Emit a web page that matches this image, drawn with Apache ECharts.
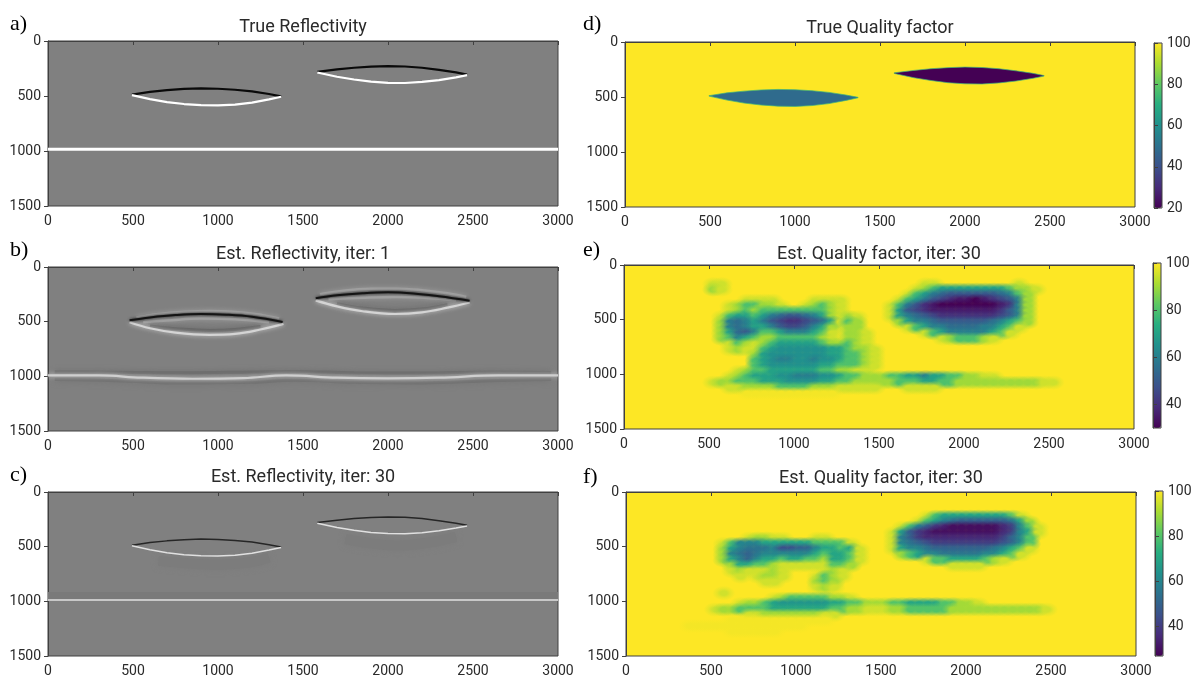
<!DOCTYPE html>
<html><head><meta charset="utf-8">
<style>html,body{margin:0;padding:0;background:#fff}#c{width:1199px;height:680px}</style>
<script src="https://cdn.jsdelivr.net/npm/echarts@6/dist/echarts.min.js"></script>
</head><body><div id="c"></div>
<script>
const viridis=['#440154','#472c7a','#3b518b','#2c718e','#21908d','#27ad81','#5cc863','#aadc32','#fde725'];
const titles=['True Reflectivity','Est. Reflectivity, iter: 1','Est. Reflectivity, iter: 30','True Quality factor','Est. Quality factor, iter: 30','Est. Quality factor, iter: 30'];
const tags=['a)','b)','c)','d)','e)','f)'];

// lens boundaries (distance, depth)
const lens1Top=[[494,488],[600,462],[700,447],[800,436],[900,431],[1000,434],[1100,443],[1200,458],[1300,482],[1371,503]];
const lens1Bot=[[494,492],[600,528],[700,555],[800,573],[900,583],[1000,586],[1100,578],[1200,560],[1300,531],[1371,507]];
const lens2Top=[[1584,280],[1700,258],[1800,243],[1900,233],[2000,228],[2100,232],[2200,243],[2300,262],[2400,285],[2465,305]];
const lens2Bot=[[1584,286],[1700,325],[1800,350],[1900,370],[2000,380],[2100,382],[2200,372],[2300,355],[2400,330],[2465,310]];
const reflectorA=[[0,985],[3000,985]];
const qLens1=48, qLens2=20;

// panel b
const bL1Top=[[480,487],[600,462],[750,440],[900,430],[1050,436],[1200,455],[1380,503]];
const bL1Bot=[[480,505],[600,560],[750,600],[950,620],[1100,612],[1250,572],[1385,520]];
const bL1Halo=[[520,462],[650,430],[800,410],[950,402],[1100,412],[1250,436],[1360,470]];
const bL1In=[[560,505],[700,490],[900,472],[1100,478],[1300,505]];
const bL1Dark=[[600,540],[750,565],[950,580],[1100,572],[1250,545]];
const bL2Top=[[1575,285],[1700,258],[1850,240],[2000,232],[2150,242],[2300,268],[2480,308]];
const bL2Bot=[[1575,305],[1700,360],[1850,405],[2040,430],[2200,415],[2350,372],[2480,325]];
const bL2Halo=[[1600,250],[1750,215],[1900,200],[2050,198],[2200,212],[2350,240],[2460,275]];
const bL2In=[[1650,295],[1850,282],[2050,275],[2250,285],[2400,305]];
const bL2Dark=[[1700,335],[1850,375],[2040,397],[2200,385],[2350,345]];
const bRefl=[[0,992],[300,992],[550,1012],[850,1022],[1150,1016],[1400,992],[1700,1012],[2000,1018],[2300,1012],[2650,992],[3000,992]];
const bReflUp=[[40,960],[400,962],[800,968],[1200,960],[1450,955],[1800,968],[2200,970],[2600,960],[2960,965]];
const bReflDn=[[40,1030],[400,1040],[800,1062],[1200,1055],[1450,1035],[1800,1055],[2200,1060],[2600,1040],[2960,1030]];

// panel c
const cRefl=[[0,988],[3000,988]];
const cReflUp=[[0,955],[3000,955]];
const cShade1=[[650,630],[800,650],[1000,665],[1200,640],[1300,600]];
const cShade2=[[1750,430],[1900,470],[2050,490],[2250,460],[2400,410]];

// Q-factor maps: cells 50 x 50, top-down from depth 0, six groups of ten columns.
const qCodes={'.':100,h:99,a:95,'9':90,b:85,'8':80,c:75,'7':70,d:65,'6':60,e:55,'5':50,f:45,'4':40,g:35,'3':30};
const E='..........';
const qRowsE=[
[E,E,E,E,E,E],[E,E,E,E,E,E],[E,E,E,E,E,E],
[E,'aa........',E,'.....aa...','......a...',E],
[E,'9a........',E,'....a98777','77777899a.',E],
[E,E,E,'...a876e55','5555e689..',E],
[E,'....aaaa..','..aaaa....','..a8765f4g','g3g4f569..',E],
[E,'..a98899a.','.a989a....','.a8654g333','3333g469..',E],
[E,'..a9898888','88889a....','.a75f4gggg','gggg4569..',E],
[E,'.a877876e5','5e679a9a..','.a76e5f444','4444f569..',E],
[E,'.96e6765f4','4f5e7a89..','..9766e555','555e6789..',E],
[E,'.96e67765f','f5679.99..','...a8766ee','ee6678a...',E],
[E,'.97e568876','6678a.99a.','.....a8766','66678a....',E],
[E,'.986789988','8889a.99a.','.......a98','889a......',E],
[E,'..a89a9877','77789989a.',E,E,E],
[E,'..a9aa87dd','dddd77899a',E,E,E],
[E,'.....97ddd','dddd77889a',E,E,E],
[E,'.....87d66','dd6dd7889a',E,E,E],
[E,'.....87ddd','ddd778889a',E,E,E],
[E,'...a988777','7778899aa.',E,E,E],
[E,'..a98777dd','666dd78899','9887767788','99aa......',E],
[E,'a99888777d','ddd7788999','9988877889','999999999a','a.........'],
[E,'..aa999988','88999aaaaa','...aaaa...',E,E],
[E,'....hhhhhh','hhhhh.....',E,E,E]
];
const qRowsF=[
[E,E,E,E,E,E],[E,E,E,E,E,E],[E,E,E,E,E,E],[E,E,E,E,E,E],
[E,E,E,'.....a8777','777778a...',E],
[E,E,E,'....a876e5','55555e79..',E],
[E,E,E,'..a8654g33','3333g468a.',E],
[E,E,E,'.a754g3333','3333g467a.',E],
[E,'....a99aa.','..aa......','.a654ggggg','gggg4568..',E],
[E,'.a86667777','778888a...','.a6e5f4444','4444f568..',E],
[E,'.976eee6ff','5567787a..','.a766e5555','555e678a..',E],
[E,'.96e5e6666','6678778a..','..98766eee','ee6678a...',E],
[E,'.976567787','7889778a..','.....a8877','7789a.....',E],
[E,'..977889aa','aaaa889...','........aa','aa........',E],
[E,'..a9aaa9a.','...a9a....',E,E,E],
[E,'...a.a99a.','..a89a....',E,E,E],
[E,'......aa..','..989.....',E,E,E],
[E,E,'..a9a.....',E,E,E],
[E,'.a........',E,E,E,E],
[E,'.......a98','888899a...',E,E,E],
[E,'...a9987dd','dddd778899','9887777889','9a........',E],
[E,'a998888777','77778899aa','a998888899','999999999a',E],
[E,'....aa9999','999aa.....',E,E,E],
[E,'..hhhhhhhh','hhhh......',E,E,E],
['.......hhh','hhhhhhhhhh','h.........',E,E,E],
[E,'..hhhhhh..',E,E,E,E]
];
const cbarTicksD=[20,40,60,80,100], cbarTicksE=[40,60,80,100], cbarTicksF=[40,60,80,100];
const cbarRanges=[[20,100],[30,100],[27,100]];

function cells(rows){
  const out=[];
  rows.forEach((groups,j)=>{
    groups.join('').split('').forEach((ch,i)=>{
      const q=qCodes[ch];
      if(q<100) out.push([i*50+25,j*50+25,q]);
    });
  });
  return out;
}

// layout, px
const W=510;
const boxes=[[48,41,165],[48,267,164],[48,492,164],[625,42,165],[624,265,164],[626,492,164]];
const cbars=[[1154,43,165],[1153,263,165],[1155,491,165]];
const titlePos=[[303,27],[303,254],[303,477],[880,28],[879,254],[881,478]];
const tagPos=[[10,24],[10,250],[10,475],[583,24],[583,250],[583,477]];
const font='Roboto', ink='#2a2a2a', frame='#404040';
const plain=v=>String(v);

const grid=[],xAxis=[],yAxis=[],series=[],title=[];
boxes.forEach((b,i)=>{
  grid.push({left:b[0],top:b[1],width:W,height:b[2],show:true,borderColor:frame,borderWidth:1,
    backgroundColor:i<3?'#808080':'#fde725'});
  xAxis.push({gridIndex:i,type:'value',min:0,max:3000,interval:500,position:'bottom',
    axisLine:{show:true,lineStyle:{color:frame}},axisTick:{show:true,length:4,lineStyle:{color:frame}},
    axisLabel:{show:true,color:ink,fontFamily:font,fontSize:14,margin:8,formatter:plain,hideOverlap:false,showMinLabel:true,showMaxLabel:true},splitLine:{show:false}});
  yAxis.push({gridIndex:i,type:'value',min:0,max:1500,interval:500,inverse:true,position:'left',
    axisLine:{show:true,lineStyle:{color:frame}},axisTick:{show:true,length:4,lineStyle:{color:frame}},
    axisLabel:{show:true,color:ink,fontFamily:font,fontSize:14,margin:7,formatter:plain,showMinLabel:true,showMaxLabel:true},splitLine:{show:false}});
  title.push({text:titles[i],left:titlePos[i][0],top:titlePos[i][1],textAlign:'center',textVerticalAlign:'middle',padding:0,
    textStyle:{fontFamily:font,fontSize:18,fontWeight:'normal',color:ink}});
  title.push({text:tags[i],left:tagPos[i][0],top:tagPos[i][1],textVerticalAlign:'middle',padding:0,
    textStyle:{fontFamily:'Liberation Serif',fontSize:22,fontWeight:'normal',color:'#000'}});
});
cbars.forEach((c,k)=>{
  const g=6+k, ticks=[cbarTicksD,cbarTicksE,cbarTicksF][k], r=cbarRanges[k];
  grid.push({left:c[0],top:c[1],width:8,height:c[2],show:true,borderColor:frame,borderWidth:1,backgroundColor:'transparent',z:5});
  xAxis.push({gridIndex:g,type:'value',min:0,max:1,show:false});
  yAxis.push({gridIndex:g,type:'value',min:r[0],max:r[1],position:'right',z:5,
    axisLine:{show:true,lineStyle:{color:frame}},
    axisTick:{show:true,length:4,lineStyle:{color:frame},customValues:ticks},
    axisLabel:{show:true,color:ink,fontFamily:font,fontSize:14,margin:5,customValues:ticks,formatter:plain,showMinLabel:true,showMaxLabel:true},
    splitLine:{show:false}});
});

function line(i,data,color,width,blur,smooth){
  series.push({type:'line',xAxisIndex:i,yAxisIndex:i,data,showSymbol:false,silent:true,smooth:smooth===undefined?false:smooth,
    lineStyle:{color,width,shadowBlur:blur||0,shadowColor:blur?color:'transparent',cap:'butt'},clip:true,z:3});
}
// panel a
line(0,lens1Top,'#0a0a0a',2.2); line(0,lens1Bot,'#ffffff',2.2);
line(0,lens2Top,'#0a0a0a',2.2); line(0,lens2Bot,'#ffffff',2.2);
line(0,reflectorA,'#ffffff',3);
// panel b
[bL1Halo,bL2Halo,bL1In,bL2In].forEach(d=>line(1,d,'#a0a0a0',2.5,4,0.4));
[bL1Dark,bL2Dark].forEach(d=>line(1,d,'#666666',3,5,0.4));
line(1,bReflUp,'#6e6e6e',3,5,0.4); line(1,bReflDn,'#727272',3,6,0.4);
[bL1Bot,bL2Bot].forEach(d=>line(1,d,'#d4d4d4',2.2,4,0.4));
line(1,bRefl,'#cfcfcf',2.2,4,0.4);
[bL1Top,bL2Top].forEach(d=>line(1,d,'#141414',2,3,0.4));
// panel c
[cShade1,cShade2].forEach(d=>line(2,d,'#7c7c7c',10,6,0.4));
line(2,cReflUp,'#7a7a7a',9);
line(2,cRefl,'#c8c8c8',2.2);
line(2,lens1Top,'#262626',1.5); line(2,lens1Bot,'#e0e0e0',1.5);
line(2,lens2Top,'#262626',1.5); line(2,lens2Bot,'#e0e0e0',1.5);

// panel d: lens polygons
const dFirst=series.length;
[[lens1Top,lens1Bot,qLens1],[lens2Top,lens2Bot,qLens2]].forEach(([t,b,q])=>{
  const pts=t.concat(b.slice().reverse());
  series.push({type:'custom',xAxisIndex:3,yAxisIndex:3,silent:true,clip:true,z:3,
    encode:{x:0,y:1},data:pts.map(p=>[p[0],p[1],q]),
    renderItem(params,api){
      if(params.dataIndex!==0) return null;
      return {type:'polygon',shape:{points:pts.map(p=>api.coord(p))},
        style:{fill:api.visual('color'),stroke:'#3cb47a',lineWidth:0.7}};
    }});
});
// panels e, f: Q cells as soft-edged discs so neighbouring cells merge
function qSeries(i,rows){
  series.push({type:'custom',xAxisIndex:i,yAxisIndex:i,silent:true,clip:true,z:3,progressive:0,
    encode:{x:0,y:1},data:cells(rows),
    renderItem(params,api){
      const c=api.coord([api.value(0),api.value(1)]),s=api.size([50,50]),col=api.visual('color');
      const clear=echarts.color.modifyAlpha(col,0), mid=echarts.color.modifyAlpha(col,0.45);
      return {type:'circle',shape:{cx:0,cy:0,r:10},x:c[0],y:c[1],scaleX:s[0]*1.35/10,scaleY:s[1]*1.35/10,
        style:{fill:{type:'radial',x:0.5,y:0.5,r:0.5,colorStops:[{offset:0,color:col},{offset:0.3,color:col},{offset:0.6,color:mid},{offset:1,color:clear}]}}};
    }});
  return series.length-1;
}
const eIdx=qSeries(4,qRowsE), fIdx=qSeries(5,qRowsF);

const visualMap=cbars.map((c,k)=>({type:'continuous',min:cbarRanges[k][0],max:cbarRanges[k][1],dimension:2,
  seriesIndex:k===0?[dFirst,dFirst+1]:k===1?eIdx:fIdx,
  left:c[0],top:c[1],itemWidth:8,itemHeight:c[2],padding:0,calculable:false,showLabel:false,text:null,
  inRange:{color:viridis},hoverLink:false}));

const chart=echarts.init(document.getElementById('c'),null,{renderer:'canvas'});
chart.setOption({animation:false,backgroundColor:'#fff',tooltip:{show:false},title,grid,xAxis,yAxis,visualMap,series});
</script>
</body></html>
